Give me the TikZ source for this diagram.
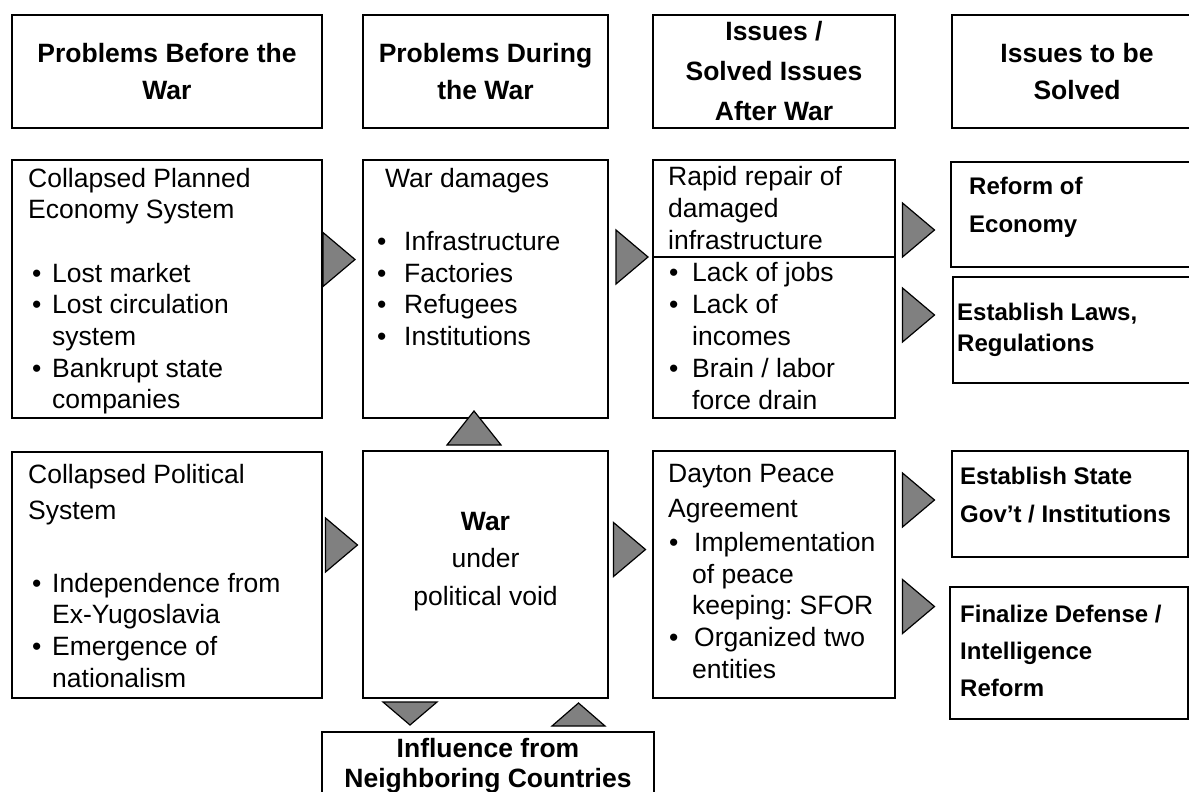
\documentclass[tikz,border=0pt]{standalone}
\usepackage{fontspec}
\setmainfont{Liberation Sans}
\usetikzlibrary{positioning}
\definecolor{arrowgray}{HTML}{808080}
\newcommand{\itm}[1]{\makebox[#1][l]{\textbullet}}
\frenchspacing

\begin{document}
\begin{tikzpicture}[x=1pt, y=-1pt,
    box/.style={draw, line width=2.6pt, anchor=north west, inner sep=0pt, outer sep=0pt},
    thinbox/.style={draw, line width=1.5pt, anchor=north west, inner sep=0pt, outer sep=0pt},
    head/.style={box, align=center, font=\bfseries\fontsize{26.5}{37}\selectfont},
    txt/.style={inner sep=0pt, anchor=base west, align=left, font=\fontsize{26.5}{31.7}\selectfont},
    boldtxt/.style={inner sep=0pt, anchor=base west, align=left, font=\bfseries\fontsize{24}{38}\selectfont},
    tri/.style={draw, line width=1.2pt, fill=arrowgray, line join=miter}]

    \useasboundingbox (0,0) rectangle (1189,792);
    \clip (0,0) rectangle (1189,792);

    \node[head, minimum width=310pt, minimum height=113pt] (hbefore) at (12,15) {Problems Before the\\War};
    \node[head, minimum width=245pt, minimum height=113pt] (hduring) at (363,15) {Problems During\\the War};
    \node[head, minimum width=242pt, minimum height=113pt,
          font=\bfseries\fontsize{26.5}{40}\selectfont] (hafter) at (653,15) {Issues /\\Solved Issues\\After War};
    \node[head, minimum width=250pt, minimum height=113pt] (hsolve) at (952,15) {Issues to be\\Solved};

    \node[box, minimum width=310pt, minimum height=258pt] (econ) at (12,160) {};
    \node[box, minimum width=245pt, minimum height=258pt] (damage) at (363,160) {};
    \node[box, minimum width=242pt, minimum height=258pt] (repair) at (653,160) {};
    \draw[line width=2pt] (repair.west |- 0,257) -- (repair.east |- 0,257);
    \node[thinbox, minimum width=251pt, minimum height=105pt] (reform) at (951,162) {};
    \node[thinbox, minimum width=249pt, minimum height=106pt] (laws) at (953,277) {};

    \node[box, minimum width=310pt, minimum height=246pt] (polit) at (12,452) {};
    \node[box, minimum width=245pt, minimum height=247pt] (war) at (363,451) {};
    \node[box, minimum width=242pt, minimum height=247pt] (dayton) at (653,451) {};
    \node[thinbox, minimum width=236pt, minimum height=106pt] (state) at (952,451) {};
    \node[thinbox, minimum width=238pt, minimum height=132pt] (defense) at (950,587) {};
    \node[box, minimum width=332pt, minimum height=70pt] (influence) at (322,732) {};

    % texts sit on the baseline of their last line
    \node[txt] (econtxt) at (28,408.9) {Collapsed Planned\\Economy System\\[31.7pt]
        \hspace*{4pt}\itm{20pt}Lost market\\
        \hspace*{4pt}\itm{20pt}Lost circulation\\
        \hspace*{24pt}system\\
        \hspace*{4pt}\itm{20pt}Bankrupt state\\
        \hspace*{24pt}companies};
    \node[txt] (damagetxt) at (377,345.5) {\hspace*{8pt}War damages\\[31.7pt]
        \itm{27pt}Infrastructure\\
        \itm{27pt}Factories\\
        \itm{27pt}Refugees\\
        \itm{27pt}Institutions};
    \node[txt, font=\fontsize{26.5}{32}\selectfont] (repairtxt) at (668,409) {Rapid repair of\\damaged\\infrastructure\\
        \hspace*{1pt}\itm{23pt}Lack of jobs\\
        \hspace*{1pt}\itm{23pt}Lack of\\
        \hspace*{24pt}incomes\\
        \hspace*{1pt}\itm{23pt}Brain / labor\\
        \hspace*{24pt}force drain};

    \node[txt] (polittxt) at (28,687.1) {Collapsed Political\\[4.3pt]System\\[41.3pt]
        \hspace*{4pt}\itm{20pt}Independence from\\
        \hspace*{24pt}Ex-Yugoslavia\\
        \hspace*{4pt}\itm{20pt}Emergence of\\
        \hspace*{24pt}nationalism};
    \node[txt, anchor=base, align=center, font=\fontsize{26.5}{37.5}\selectfont] (wartxt) at (485.5,605)
        {\textbf{War}\\under\\political void};
    \node[txt] (daytontxt) at (668,678.2) {Dayton Peace\\[4pt]Agreement\\[2pt]
        \hspace*{1pt}\itm{25pt}Implementation\\
        \hspace*{24pt}of peace\\
        \hspace*{24pt}keeping: SFOR\\
        \hspace*{1pt}\itm{25pt}Organized two\\
        \hspace*{24pt}entities};
    \node[txt, anchor=base, align=center, font=\bfseries\fontsize{26.5}{30}\selectfont] (influencetxt) at (488,787)
        {Influence from\\Neighboring Countries};

    \node[boldtxt] (reformtxt) at (969,232) {Reform of\\Economy};
    \node[boldtxt, font=\bfseries\fontsize{24}{31}\selectfont] (lawstxt) at (957,351) {Establish Laws,\\Regulations};
    \node[boldtxt] (statetxt) at (960,522) {Establish State\\Gov’t / Institutions};
    \node[boldtxt, font=\bfseries\fontsize{24}{37}\selectfont] (defensetxt) at (960,696) {Finalize Defense /\\Intelligence\\Reform};

    \foreach \x/\y in {339/259.5, 632/257, 341.5/545, 629.5/549.5, 918.5/230, 918.5/315, 918.5/500, 918.5/606.5} {
      \draw[tri] (\x-16,\y-27) -- (\x+16,\y) -- (\x-16,\y+27) -- cycle;
    }

    \draw[tri] (447,445) -- (474,411) -- (501,445) -- cycle;
    \draw[tri] (383,702) -- (437,702) -- (410,725) -- cycle;
    \draw[tri] (552,726) -- (578.5,703) -- (605,726) -- cycle;

\end{tikzpicture}
\end{document}
